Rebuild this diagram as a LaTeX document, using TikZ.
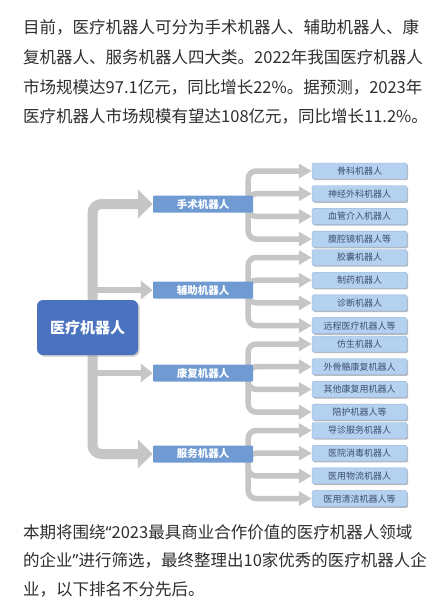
\documentclass[tikz,border=0pt]{standalone}
\usepackage{fontspec}
\setmainfont{Noto Sans CJK SC}
\newfontfamily\latinquote{Noto Sans}
\usepackage{tikz}
\usetikzlibrary{arrows.meta,positioning,backgrounds,shadows}
\definecolor{TextGray}{HTML}{2E2E2E}
\definecolor{ArrowGray}{HTML}{C6C6C6}
\definecolor{RootBlue}{HTML}{4A72BE}
\definecolor{MidBlue}{HTML}{6F9BD2}
\definecolor{LeafBlue}{HTML}{B5D1F0}
\definecolor{LeafLine}{HTML}{93B5DD}
\definecolor{LeafText}{HTML}{3D4F70}

\begin{document}
\begin{tikzpicture}[
    x=1pt, y=-1pt,
    para/.style={anchor=west, inner sep=0pt, text=TextGray, font=\fontsize{16.5}{20}\selectfont},
    rootbox/.style={fill=RootBlue, rounded corners=6pt, minimum width=101pt, minimum height=55pt, text=white, font=\fontsize{15}{18}\selectfont\bfseries, drop shadow={shadow xshift=1.5pt, shadow yshift=-1.5pt, fill=black!40}},
    catbox/.style={fill=MidBlue, rounded corners=1pt, minimum width=100pt, minimum height=17pt, inner sep=0pt, text=white, font=\fontsize{10.5}{12}\selectfont\bfseries},
    leafbox/.style={fill=LeafBlue, draw=LeafLine, line width=0.4pt, rounded corners=1.5pt, minimum width=95pt, minimum height=16pt, inner sep=0pt, text=LeafText, font=\fontsize{9}{10}\selectfont, drop shadow={shadow xshift=1.2pt, shadow yshift=-1.2pt, fill=black!45, opacity=0.6}},
    bigarr/.style={draw=ArrowGray, line width=10pt, rounded corners=9pt, -{Triangle[width=28pt,length=15pt]}},
    midarr/.style={draw=ArrowGray, line width=5.5pt, -{Triangle[width=18pt,length=12pt]}},
    leafarr/.style={draw=ArrowGray, line width=5.5pt, rounded corners=8pt, -{Triangle[width=14pt,length=13pt]}}
]
\useasboundingbox (0,0) rectangle (443,600);

% 上方说明文字
\node[para] (p1) at (23,27) {目前，医疗机器人可分为手术机器人、辅助机器人、康};
\node[para] (p2) at (23,57) {复机器人、服务机器人四大类。2022年我国医疗机器人};
\node[para] (p3) at (23,87) {市场规模达97.1亿元，同比增长22\%。据预测，2023年};
\node[para] (p4) at (23,116) {医疗机器人市场规模有望达108亿元，同比增长11.2\%。};

% 根节点与四个大类
\node[rootbox] (root) at (87.5,327.5) {医疗机器人};
\node[catbox] (surg) at (203,204) {手术机器人};
\node[catbox] (aux) at (203,290) {辅助机器人};
\node[catbox] (reha) at (203,373) {康复机器人};
\node[catbox] (serv) at (203,454) {服务机器人};

% 细分类别
\node[leafbox] (gk) at (359.5,171) {骨科机器人};
\node[leafbox, below=6.3pt of gk] (sj) {神经外科机器人};
\node[leafbox, below=6.3pt of sj] (xg) {血管介入机器人};
\node[leafbox, below=6.3pt of xg] (fq) {腹腔镜机器人等};
\node[leafbox, below=2pt of fq] (jn) {胶囊机器人};
\node[leafbox, below=6.3pt of jn] (zy) {制药机器人};
\node[leafbox, below=6.3pt of zy] (zd) {诊断机器人};
\node[leafbox, below=6.3pt of zd] (yc) {远程医疗机器人等};
\node[leafbox, below=2pt of yc] (fs) {仿生机器人};
\node[leafbox, below=6.3pt of fs] (wg) {外骨骼康复机器人};
\node[leafbox, below=6.3pt of wg] (qt) {其他康复用机器人};
\node[leafbox, below=6.3pt of qt] (ph) {陪护机器人等};
\node[leafbox, below=2pt of ph] (dz) {导诊服务机器人};
\node[leafbox, below=6.3pt of dz] (xd) {医院消毒机器人};
\node[leafbox, below=6.3pt of xd] (wl) {医用物流机器人};
\node[leafbox, below=6.3pt of wl] (qj) {医用清洁机器人等};

% 下方说明文字
\node[para] (q1) at (23,532) {本期将围绕{\latinquote “}2023最具商业合作价值的医疗机器人领域};
\node[para] (q2) at (23,560) {的企业{\latinquote ”}进行筛选，最终整理出10家优秀的医疗机器人企};
\node[para] (q3) at (23,589) {业，以下排名不分先后。};

% 灰色箭头放在背景层
\begin{scope}[on background layer]
\fill[white] (0,0) rectangle (443,600);
\coordinate (trunk) at ([xshift=5pt]root.center);
\draw[bigarr] (trunk) |- (surg.west);
\draw[bigarr] (trunk) |- (serv.west);
\draw[midarr] (trunk |- aux.west) -- (aux.west);
\draw[midarr] (trunk |- reha.west) -- (reha.west);

\draw[leafarr] ([xshift=-5pt]surg.east) |- (gk.west);
\draw[leafarr] ([xshift=-5pt]surg.east) |- (sj.west);
\draw[leafarr] ([xshift=-5pt]surg.east) |- (xg.west);
\draw[leafarr] ([xshift=-5pt]surg.east) |- (fq.west);

\draw[leafarr] ([xshift=-5pt]aux.east) |- (jn.west);
\draw[leafarr] ([xshift=-5pt]aux.east) |- (zy.west);
\draw[leafarr] ([xshift=-5pt]aux.east) |- (zd.west);
\draw[leafarr] ([xshift=-5pt]aux.east) |- (yc.west);

\draw[leafarr] ([xshift=-5pt]reha.east) |- (fs.west);
\draw[leafarr] ([xshift=-5pt]reha.east) |- (wg.west);
\draw[leafarr] ([xshift=-5pt]reha.east) |- (qt.west);
\draw[leafarr] ([xshift=-5pt]reha.east) |- (ph.west);

\draw[leafarr] ([xshift=-5pt]serv.east) |- (dz.west);
\draw[leafarr] ([xshift=-5pt]serv.east) |- (xd.west);
\draw[leafarr] ([xshift=-5pt]serv.east) |- (wl.west);
\draw[leafarr] ([xshift=-5pt]serv.east) |- (qj.west);
\end{scope}
\end{tikzpicture}
\end{document}
